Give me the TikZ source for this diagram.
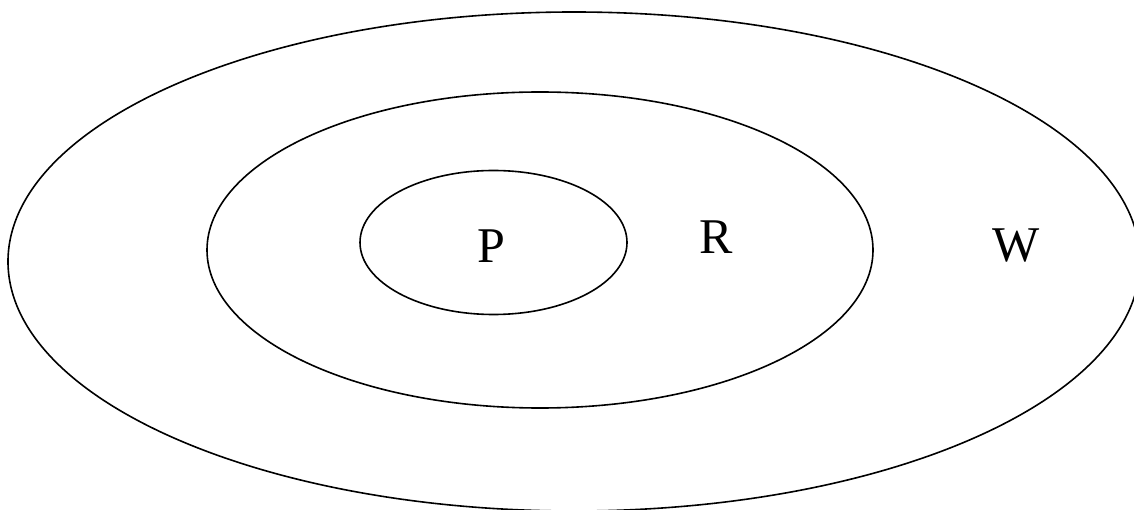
\documentclass[tikz,border=0pt]{standalone}
\usepackage{fontspec}
\setmainfont{Liberation Serif}
\usetikzlibrary{positioning, shapes.geometric}
\tikzset{
  ring/.style={draw, ellipse, line width=1.6pt, inner sep=0pt},
  setlab/.style={inner sep=0pt, font=\fontsize{50}{60}\selectfont},
}

\begin{document}
\begin{tikzpicture}[x=1pt, y=-1pt]
  \useasboundingbox (0,0) rectangle (1134,510);

  % --- nested sets ----------------------------------------------------
  \node[ring, minimum width=1132pt, minimum height=499pt] (world) at (574,261.5) {};
  \node[ring, minimum width=666pt, minimum height=316pt]  (reach) at (540,250) {};
  \node[ring, minimum width=267pt, minimum height=144pt]  (prop)  at (493.5,242.5) {};

  % --- labels ---------------------------------------------------------
  \node[setlab] (plab) at (491,246)  {P};
  \node[setlab] (rlab) at (716,237)  {R};
  \node[setlab] (wlab) at (1016,246) {W};

\end{tikzpicture}
\end{document}
